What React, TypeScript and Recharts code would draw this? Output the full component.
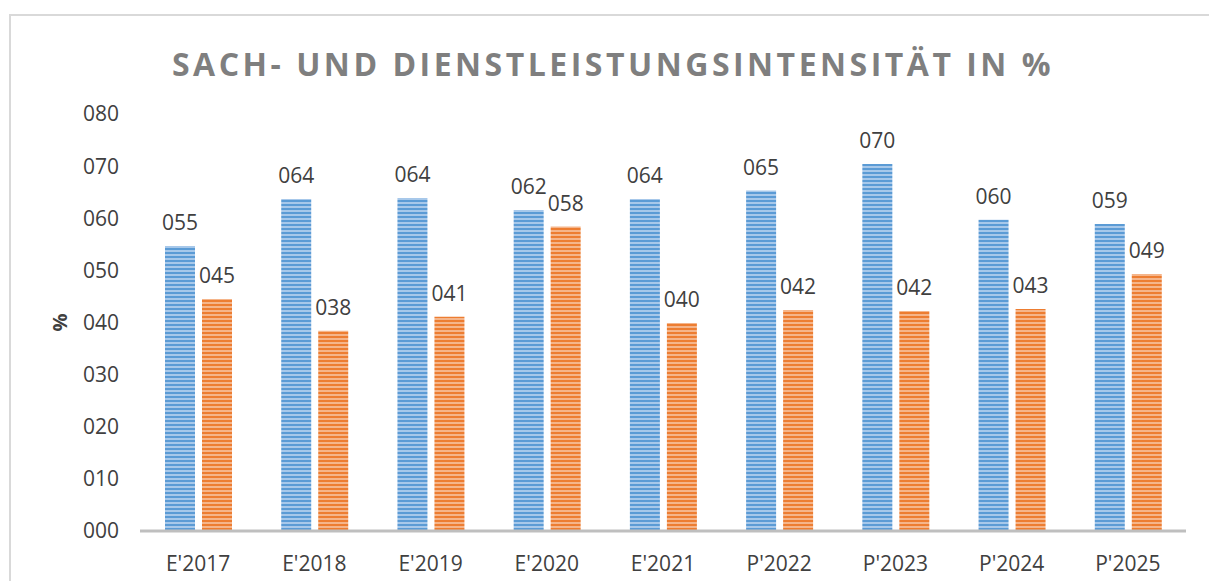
import React from "react";
import { BarChart, Bar, XAxis, YAxis, LabelList, Label } from "recharts";

const categories = ["E'2017", "E'2018", "E'2019", "E'2020", "E'2021", "P'2022", "P'2023", "P'2024", "P'2025"];
const sachValues = [54.7, 63.7, 63.9, 61.6, 63.7, 65.3, 70.4, 59.7, 58.9];
const dienstValues = [44.5, 38.4, 41.1, 58.4, 39.9, 42.4, 42.2, 42.6, 49.3];
const yTicks = [0, 10, 20, 30, 40, 50, 60, 70, 80];

const data = categories.map((name, i) => ({
  name,
  sach: sachValues[i],
  dienst: dienstValues[i],
}));

const pad3 = (v: number) => String(Math.round(v)).padStart(3, "0");

const FONT = "'Open Sans', sans-serif";

const PercentLabel = (props: any) => {
  const { viewBox } = props;
  const x = viewBox.x + 9;
  const y = viewBox.y + viewBox.height / 2;
  return (
    <text
      x={x}
      y={y}
      transform={`rotate(-90, ${x}, ${y})`}
      textAnchor="middle"
      dominantBaseline="central"
      fill="#404040"
      fontWeight="bold"
      fontSize={20}
      fontFamily={FONT}
    >
      %
    </text>
  );
};

const App: React.FC = () => {
  return (
    <div
      style={{
        position: "fixed",
        left: 9,
        top: 14,
        width: 1220,
        height: 590,
        borderTop: "2px solid #d9d9d9",
        borderLeft: "2px solid #d9d9d9",
        background: "#fff",
        fontFamily: FONT,
      }}
    >
      <BarChart
        width={1200}
        height={567}
        data={data}
        margin={{ top: 98, right: 25, bottom: 12, left: 39 }}
        barGap={7}
        barSize={30}
      >
        <defs>
          <pattern id="stripeBlue" width="8" height="4" patternUnits="userSpaceOnUse">
            <rect width="8" height="4" fill="#a7c8ea" />
            <rect width="8" height="2" fill="#5b9bd5" />
          </pattern>
          <pattern id="stripeOrange" width="8" height="4" patternUnits="userSpaceOnUse">
            <rect width="8" height="4" fill="#f5b58a" />
            <rect width="8" height="2" fill="#ed7d31" />
          </pattern>
        </defs>
        <text
          x={602}
          y={47}
          textAnchor="middle"
          dominantBaseline="central"
          fill="#7f7f7f"
          fontWeight="bold"
          fontSize={32}
          fontFamily={FONT}
          letterSpacing={3.5}
        >
          SACH- UND DIENSTLEISTUNGSINTENSITÄT IN %
        </text>
        <XAxis
          dataKey="name"
          height={40}
          tickLine={false}
          tickSize={0}
          tickMargin={25}
          axisLine={{ stroke: "#bfbfbf", strokeWidth: 3 }}
          tick={{ fill: "#404040", fontSize: 21, fontFamily: FONT }}
        />
        <YAxis
          width={90}
          domain={[0, 80]}
          ticks={yTicks}
          tickFormatter={pad3}
          axisLine={false}
          tickLine={false}
          tickSize={0}
          tickMargin={21}
          tick={{ fill: "#404040", fontSize: 21, fontFamily: FONT }}
        >
          <Label content={<PercentLabel />} />
        </YAxis>
        <Bar dataKey="sach" fill="url(#stripeBlue)" isAnimationActive={false}>
          <LabelList
            dataKey="sach"
            position="top"
            offset={16}
            formatter={(v: any) => pad3(Number(v))}
            fill="#404040"
            fontSize={21}
            fontFamily={FONT}
          />
        </Bar>
        <Bar dataKey="dienst" fill="url(#stripeOrange)" isAnimationActive={false}>
          <LabelList
            dataKey="dienst"
            position="top"
            offset={16}
            formatter={(v: any) => pad3(Number(v))}
            fill="#404040"
            fontSize={21}
            fontFamily={FONT}
          />
        </Bar>
      </BarChart>
    </div>
  );
};

export default App;
